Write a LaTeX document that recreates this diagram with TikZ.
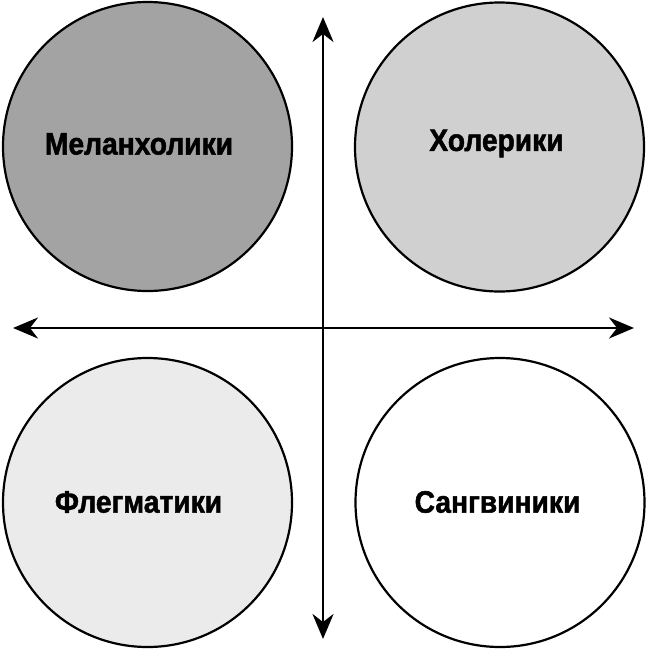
\documentclass[tikz,border=0pt]{standalone}
\usepackage{fontspec}
\setmainfont{Liberation Sans}
\newfontfamily\lblfont[FakeStretch=0.91, FakeBold=1.6]{Liberation Sans Bold}
\usetikzlibrary{arrows.meta}
\definecolor{cmel}{HTML}{A3A3A3}
\definecolor{chol}{HTML}{D0D0D0}
\definecolor{cflg}{HTML}{EBEBEB}
\definecolor{csan}{HTML}{FFFFFF}
\tikzset{
  temper/.style={circle, draw=black, line width=2.2bp, minimum size=289bp, inner sep=0pt},
  tlabel/.style={font=\lblfont\fontsize{31bp}{33bp}\selectfont, text=black, inner sep=0pt},
  axis/.style={line width=2.6bp, {Stealth[length=25bp,width=21bp,inset=8bp]}-{Stealth[length=25bp,width=21bp,inset=8bp]}}
}
\begin{document}
\begin{tikzpicture}[x=1bp, y=-1bp]
\useasboundingbox (0,0) rectangle (647,650);
\fill[white] (0,0) rectangle (647,650);
\node[temper, fill=cmel] (mel) at (147.5,146.5) {};
\node[temper, fill=chol] (hol) at (499.5,147) {};
\node[temper, fill=cflg] (flg) at (147.5,502.5) {};
\node[temper, fill=csan] (san) at (500,502.5) {};
\node[tlabel] (tmel) at (139,144) {Меланхолики};
\node[tlabel] (thol) at (496.5,143.5) {Холерики};
\node[tlabel] (tflg) at (138.5,502) {Флегматики};
\node[tlabel] (tsan) at (497.5,502) {Сангвиники};
\coordinate (top) at (323,17);
\coordinate (bot) at (323,639);
\coordinate (lft) at (13,328);
\coordinate (rgt) at (634,328);
\draw[axis] (top) -- (bot);
\draw[axis] (lft) -- (rgt);
\end{tikzpicture}
\end{document}
